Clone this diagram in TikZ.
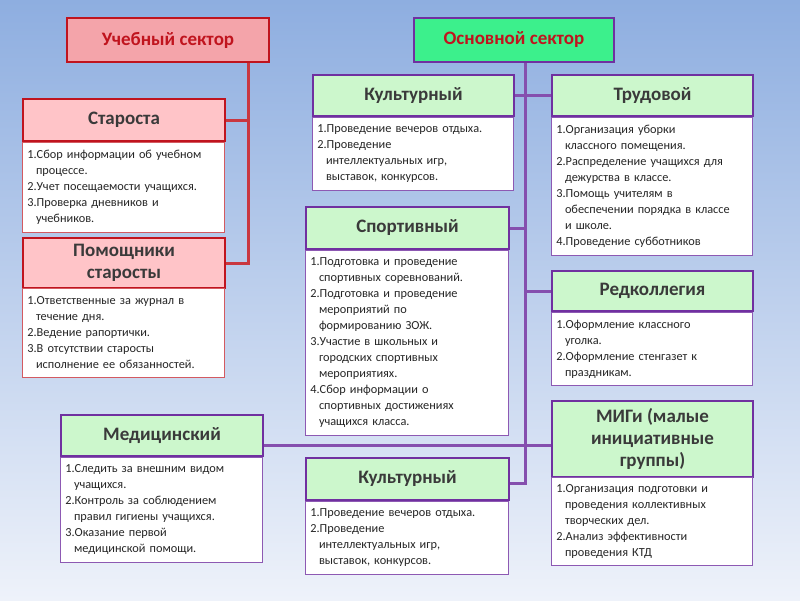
\documentclass[tikz,border=0pt]{standalone}
\usepackage{fontspec}
\setmainfont{Carlito}
\usetikzlibrary{calc}
\definecolor{dred}{HTML}{C0141E}
\definecolor{pur}{HTML}{7030A0}
\definecolor{lgreen}{HTML}{CCF7CC}
\definecolor{bgreen}{HTML}{3CF08C}
\definecolor{lpink}{HTML}{FFC4C8}
\definecolor{mpink}{HTML}{F4A4AA}
\definecolor{htxt}{HTML}{3A3A3A}
\definecolor{bgtop}{HTML}{8EAEE0}
\definecolor{bgbot}{HTML}{EEF2FA}
\tikzset{
  hbase/.style={draw, line width=2pt, font=\bfseries\fontsize{19}{20}\selectfont, text=htxt, align=center, anchor=north west, inner sep=1pt},
  rhdr/.style={hbase, draw=dred, fill=lpink},
  ghdr/.style={hbase, draw=pur, fill=lgreen},
  bbase/.style={draw, line width=0.8pt, fill=white, anchor=north west, align=left, inner xsep=5pt, inner ysep=3pt, font=\fontsize{12.3}{16}\selectfont, text=black!85},
  rbody/.style={bbase, draw=dred!70},
  gbody/.style={bbase, draw=pur!80},
  redl/.style={draw=dred!85, line width=3pt},
  purl/.style={draw=pur!85, line width=3pt},
}
\newcommand{\ci}{\hspace*{0.7em}}
\begin{document}
\begin{tikzpicture}[x=1pt,y=-1pt]
\shade[top color=bgtop, bottom color=bgbot] (0,0) rectangle (800,600);
\useasboundingbox (0,0) rectangle (800,600);
\coordinate (rt) at (248,61);
\coordinate (pt) at (525,61);
\node[rhdr, minimum width=202pt, minimum height=42pt] (star) at (22,98) {Староста};
\node[rhdr, minimum width=202pt, minimum height=50pt, font=\bfseries\fontsize{19}{22}\selectfont] (pom) at (22,237) {Помощники\\старосты};
\node[ghdr, minimum width=201pt, minimum height=41pt] (kult1) at (312,74) {Культурный};
\node[ghdr, minimum width=201pt, minimum height=41pt] (trud) at (551,74) {Трудовой};
\node[ghdr, minimum width=203pt, minimum height=42pt] (sport) at (305,206) {Спортивный};
\node[ghdr, minimum width=201pt, minimum height=40pt] (red) at (551,270) {Редколлегия};
\node[ghdr, minimum width=201pt, minimum height=76pt, font=\bfseries\fontsize{19}{22}\selectfont] (mig) at (551,400) {МИГи (малые\\инициативные\\группы)};
\node[ghdr, minimum width=202pt, minimum height=41pt] (med) at (60,414) {Медицинский};
\node[ghdr, minimum width=203pt, minimum height=42pt] (kult2) at (305,457) {Культурный};
\draw[redl] (rt) |- (star.east);
\draw[redl] (rt) |- (pom.east);
\draw[purl] (pt) |- (kult1.east);
\draw[purl] (pt) |- (trud.west);
\draw[purl] (pt) |- (sport.east);
\draw[purl] (pt) |- (red.west);
\draw[purl] (pt) |- ($(kult2.east)+(0,4)$);
\draw[purl] ($(med.east)+(0,10)$) -- ($(mig.west |- med.east)+(0,10)$);
\node[hbase, draw=dred, fill=mpink, text=dred, minimum width=202pt, minimum height=44pt] (ucheb) at (66,17) {Учебный сектор};
\node[hbase, draw=pur, fill=bgreen, text=dred, minimum width=200pt, minimum height=44pt] (osn) at (413,17) {Основной сектор};
% bodies
\node[rbody, text width=192pt, minimum height=90pt] (b1) at (22,142) {1.Сбор информации об учебном\\\ci процессе.\\2.Учет посещаемости учащихся.\\3.Проверка дневников и\\\ci учебников.};
\node[rbody, text width=192pt, minimum height=89pt] (b2) at (22,288) {1.Ответственные за журнал в\\\ci течение дня.\\2.Ведение рапортички.\\3.В отсутствии старосты\\\ci исполнение ее обязанностей.};
\node[gbody, text width=191pt, minimum height=73pt] (b3) at (312,117) {1.Проведение вечеров отдыха.\\2.Проведение\\\ci интеллектуальных игр,\\\ci выставок, конкурсов.};
\node[gbody, text width=191pt, minimum height=138pt] (b4) at (551,117) {1.Организация уборки\\\ci классного помещения.\\2.Распределение учащихся для\\\ci дежурства в классе.\\3.Помощь учителям в\\\ci обеспечении порядка в классе\\\ci и школе.\\4.Проведение субботников};
\node[gbody, text width=193pt, minimum height=185pt] (b5) at (305,250) {1.Подготовка и проведение\\\ci спортивных соревнований.\\2.Подготовка и проведение\\\ci мероприятий по\\\ci формированию ЗОЖ.\\3.Участие в школьных и\\\ci городских спортивных\\\ci мероприятиях.\\4.Сбор информации о\\\ci спортивных достижениях\\\ci учащихся класса.};
\node[gbody, text width=191pt, minimum height=73pt] (b6) at (551,312) {1.Оформление классного\\\ci уголка.\\2.Оформление стенгазет к\\\ci праздникам.};
\node[gbody, text width=191pt, minimum height=88pt] (b7) at (551,477) {1.Организация подготовки и\\\ci проведения коллективных\\\ci творческих дел.\\2.Анализ эффективности\\\ci проведения КТД};
\node[gbody, text width=192pt, minimum height=105pt] (b8) at (60,457) {1.Следить за внешним видом\\\ci учащихся.\\2.Контроль за соблюдением\\\ci правил гигиены учащихся.\\3.Оказание первой\\\ci медицинской помощи.};
\node[gbody, text width=193pt, minimum height=73pt] (b9) at (305,501) {1.Проведение вечеров отдыха.\\2.Проведение\\\ci интеллектуальных игр,\\\ci выставок, конкурсов.};
\end{tikzpicture}
\end{document}
